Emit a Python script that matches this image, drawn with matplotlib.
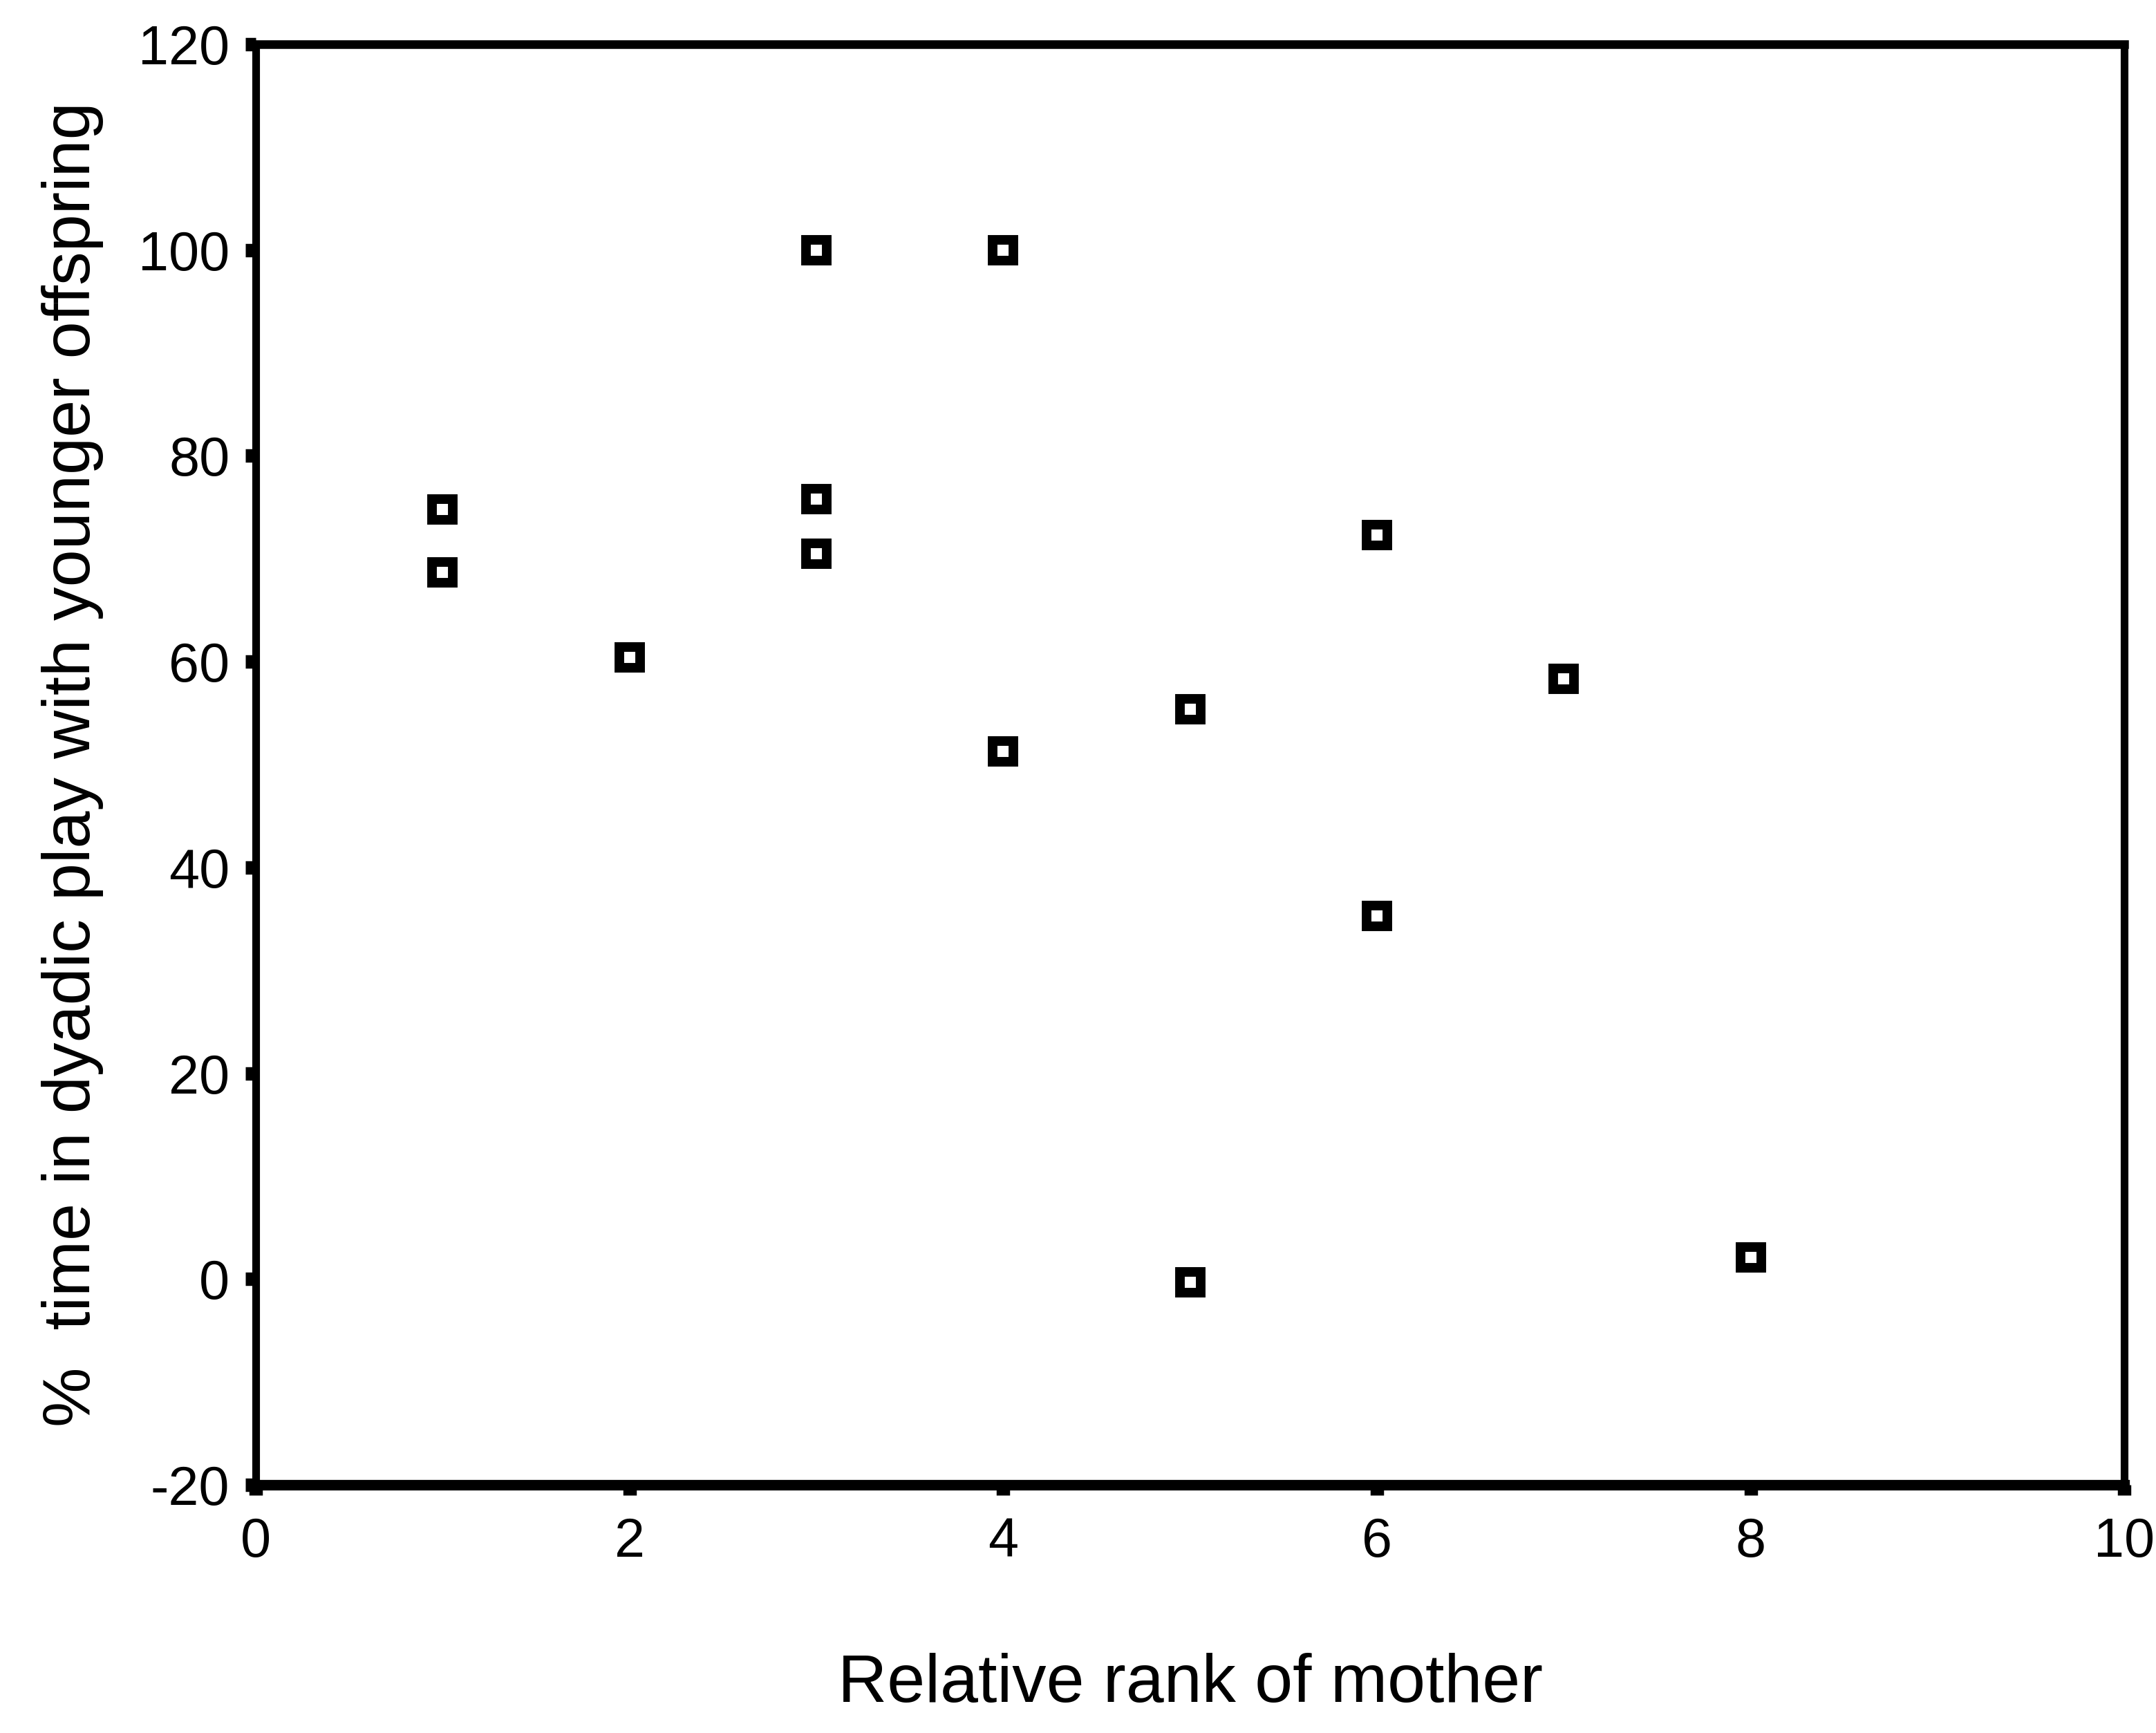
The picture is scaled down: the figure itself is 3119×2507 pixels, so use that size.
import matplotlib.pyplot as plt

plt.rcParams['font.family'] = ['Liberation Sans', 'DejaVu Sans']

# relative rank of mother vs % time in dyadic play with younger offspring
rank = [1, 1, 2, 3, 3, 3, 4, 4, 5, 5, 6, 6, 7, 8]
pct_play = [74.8, 68.7, 60.4, 100, 75.8, 70.5, 100, 51.3, 55.4, -0.3, 72.3, 35.3, 58.3, 2.1]

xticks = [0, 2, 4, 6, 8, 10]
yticks = [-20, 0, 20, 40, 60, 80, 100, 120]

fig = plt.figure(figsize=(31.19, 25.07), dpi=100)
ax = fig.add_axes([0.1186, 0.1432, 0.8667, 0.8313])

ax.plot(rank, pct_play, linestyle='none', marker='s', markersize=21,
        markerfacecolor='white', markeredgecolor='black', markeredgewidth=10,
        clip_on=False)

ax.set_xlim(0, 10)
ax.set_ylim(-20, 120)
ax.set_xticks(xticks)
ax.set_yticks(yticks)
ax.set_xticklabels([str(t) for t in xticks])
ax.set_yticklabels([str(t) for t in yticks])

# thick scanned-looking frame
ax.spines['left'].set_linewidth(8)
ax.spines['right'].set_linewidth(8)
ax.spines['top'].set_linewidth(9)
ax.spines['bottom'].set_linewidth(11)
for s in ax.spines.values():
    s.set_color('black')

ax.tick_params(axis='both', direction='out', length=11, width=14,
               labelsize=57, colors='black')
ax.tick_params(axis='y', pad=16)
ax.tick_params(axis='x', pad=22)

ax.set_xlabel('Relative rank of mother', fontsize=71, labelpad=88)
ax.set_ylabel('%  time in dyadic play with younger offspring', fontsize=70, labelpad=36)

fig.savefig('out.png', dpi=100, facecolor='white')
